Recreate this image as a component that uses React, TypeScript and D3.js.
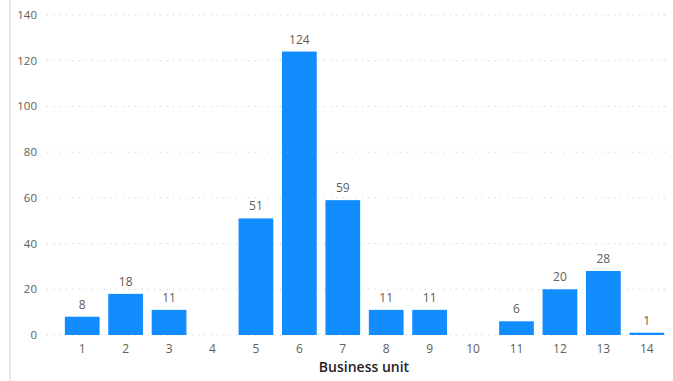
import React from "react";
import * as d3 from "d3";

const categories = ["1","2","3","4","5","6","7","8","9","10","11","12","13","14"];
const values: (number | null)[] = [8,18,11,null,51,124,59,11,11,null,6,20,28,1];
const yTicks = [0,20,40,60,80,100,120,140];
const xTitle = "Business unit";

const W = 673, H = 381;
const font = "'Segoe UI', 'Open Sans', sans-serif";

export default function App() {
  const x = d3.scaleBand<string>().domain(categories).range([60.5, 668.5]).paddingInner(0.2).paddingOuter(0.1);
  const y = d3.scaleLinear().domain([0, 140]).range([335, 15]);
  return (
    <svg width={W} height={H} style={{ position: "absolute", left: 0, top: 0, background: "#fff" }} fontFamily={font}>
      <rect x={9} y={0} width={2} height={H} fill="#e8e8e8" />
      {yTicks.map(t => (
        <g key={t}>
          <line x1={47} x2={668} y1={y(t)} y2={y(t)} stroke="#c8c6c4" strokeWidth={1} strokeDasharray="1,5.3" />
          <text x={37} y={y(t)} dy="0.35em" textAnchor="end" fontSize={11.5} fill="#605e5c">{t}</text>
        </g>
      ))}
      {categories.map((c, i) => {
        const v = values[i];
        const cx = x(c)! + x.bandwidth() / 2;
        return (
          <g key={c}>
            {v != null && (
              <>
                <rect x={x(c)} y={y(v)} width={x.bandwidth()} height={y(0) - y(v)} fill="#118DFF" />
                <text x={cx} y={y(v) - 8} textAnchor="middle" fontSize={12} fill="#605e5c">{v}</text>
              </>
            )}
            <text x={cx} y={349} dy="0.35em" textAnchor="middle" fontSize={12} fill="#605e5c">{c}</text>
          </g>
        );
      })}
      <text x={364} y={367} dy="0.35em" textAnchor="middle" fontSize={14} fill="#252423" fontWeight={600}>{xTitle}</text>
    </svg>
  );
}
